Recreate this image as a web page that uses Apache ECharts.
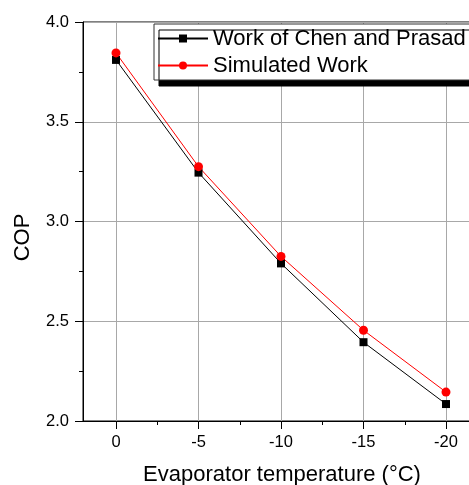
<!DOCTYPE html>
<html>
<head>
<meta charset="utf-8">
<script src="https://cdn.jsdelivr.net/npm/echarts@6/dist/echarts.min.js"></script>
<style>
  html, body { margin: 0; padding: 0; background: #fff; }
  #chart { width: 469px; height: 485px; }
</style>
</head>
<body>
<div id="chart"></div>
<script>
// evaporator temperature (°C)
const temps = [0, -5, -10, -15, -20];
// COP values
const chenPrasad = [3.81, 3.245, 2.79, 2.395, 2.085];
const simulated = [3.845, 3.275, 2.825, 2.455, 2.145];
const xMajor = [0, -5, -10, -15, -20];
const xMinor = [-2.5, -7.5, -12.5, -17.5, -22.5];

const font = 'Arial, "Liberation Sans", sans-serif';

const chart = echarts.init(document.getElementById('chart'));

const pairs = (ys) => temps.map((t, i) => [t, ys[i]]);

const option = {
  animation: false,
  backgroundColor: '#fff',
  grid: {
    left: 83,
    top: 22,
    bottom: 64,
    right: -59.5,          // plot runs past the right edge like the original
    outerBoundsMode: 'none',
    containLabel: false,
    show: true,
    borderColor: '#000',
    borderWidth: 1,
    backgroundColor: 'transparent'
  },
  legend: {
    left: 154,
    top: 24,
    orient: 'vertical',
    data: ['Work of Chen and Prasad', 'Simulated Work'],
    itemWidth: 50,
    itemHeight: 10,
    itemGap: 5,
    padding: [3.5, 30, 3.5, 3],
    backgroundColor: '#fff',
    borderColor: '#333',
    borderWidth: 1,
    shadowBlur: 0,
    shadowColor: '#000',
    shadowOffsetX: 5,
    shadowOffsetY: 6,
    textStyle: { fontFamily: font, fontSize: 22, color: '#000' }
  },
  xAxis: [{
    type: 'value',
    inverse: true,
    min: -25,
    max: 2,
    interval: 5,
    axisLine: { show: true, onZero: false, lineStyle: { color: '#000', width: 1 } },
    axisTick: { show: true, inside: false, length: 8, customValues: xMajor, lineStyle: { color: '#000' } },
    axisLabel: {
      customValues: xMajor,
      margin: 13,
      fontFamily: font, fontSize: 16.5, color: '#000',
      formatter: (v) => String(v)
    },
    splitLine: { show: true, lineStyle: { color: '#a8a8a8', width: 1 } }
  }, {
    // minor ticks only
    type: 'value',
    position: 'bottom',
    inverse: true,
    min: -25,
    max: 2,
    interval: 5,
    axisLine: { show: false },
    axisTick: { show: true, length: 4, customValues: xMinor, lineStyle: { color: '#000' } },
    axisLabel: { show: false },
    splitLine: { show: false }
  }],
  yAxis: {
    type: 'value',
    min: 2,
    max: 4,
    interval: 0.5,
    name: 'COP',
    nameLocation: 'middle',
    nameGap: 49,
    nameTextStyle: { fontFamily: font, fontSize: 22, color: '#000', padding: [0, 32, 0, 0] },
    axisLine: { show: true, onZero: false, lineStyle: { color: '#000', width: 1 } },
    axisTick: { show: true, length: 8, lineStyle: { color: '#000' } },
    minorTick: { show: true, splitNumber: 2, length: 4, lineStyle: { color: '#000' } },
    axisLabel: {
      margin: 14,
      fontFamily: font, fontSize: 16.5, color: '#000',
      formatter: (v) => v.toFixed(1)
    },
    splitLine: { show: true, lineStyle: { color: '#a8a8a8', width: 1 } }
  },
  graphic: [{
    type: 'text',
    x: 282,
    y: 475,
    style: {
      text: 'Evaporator temperature (°C)',
      font: '22px ' + font,
      fill: '#000',
      align: 'center',
      verticalAlign: 'middle'
    }
  }],
  series: [{
    name: 'Work of Chen and Prasad',
    type: 'line',
    xAxisIndex: 0,
    data: pairs(chenPrasad),
    symbol: 'rect',
    symbolSize: 8,
    lineStyle: { color: '#000', width: 1 },
    itemStyle: { color: '#000' }
  }, {
    name: 'Simulated Work',
    type: 'line',
    xAxisIndex: 0,
    data: pairs(simulated),
    symbol: 'circle',
    symbolSize: 9,
    lineStyle: { color: '#ff0000', width: 1 },
    itemStyle: { color: '#ff0000' }
  }]
};

chart.setOption(option);
</script>
</body>
</html>
